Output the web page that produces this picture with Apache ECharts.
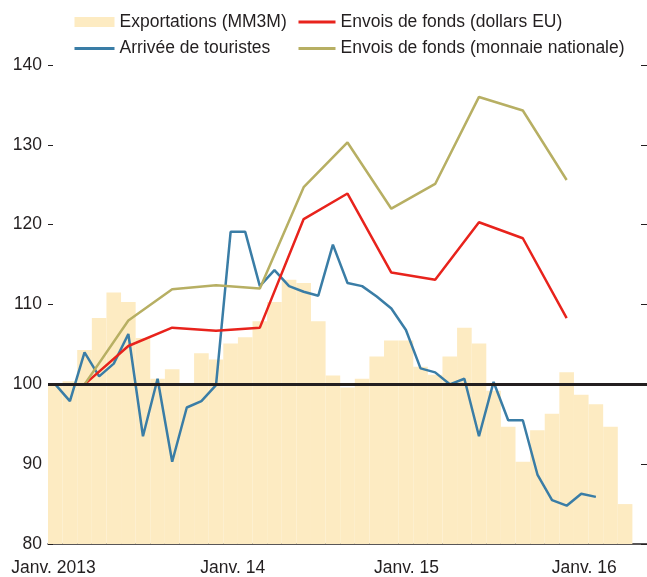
<!DOCTYPE html>
<html>
<head>
<meta charset="utf-8">
<script src="https://cdn.jsdelivr.net/npm/echarts@6/dist/echarts.min.js"></script>
<style>
html,body{margin:0;padding:0;background:#fff;}
#chart{width:647px;height:577px;}
</style>
</head>
<body>
<div id="chart"></div>
<script>
// Monthly categories (Jan 2013 - May 2016)
const categories = [
  '2013-01','2013-02','2013-03','2013-04','2013-05','2013-06','2013-07','2013-08','2013-09','2013-10','2013-11','2013-12',
  '2014-01','2014-02','2014-03','2014-04','2014-05','2014-06','2014-07','2014-08','2014-09','2014-10','2014-11','2014-12',
  '2015-01','2015-02','2015-03','2015-04','2015-05','2015-06','2015-07','2015-08','2015-09','2015-10','2015-11','2015-12',
  '2016-01','2016-02','2016-03','2016-04','2016-05'
];
// Exportations (MM3M), monthly
const exportsMM3M = [
  100.0,100.4,104.3,108.3,111.5,110.3,105.8,100.7,101.9,99.9,103.9,103.1,
  105.1,105.9,107.9,110.3,113.1,112.7,107.9,101.1,99.6,100.7,103.5,105.5,
  105.5,102.2,101.2,103.5,107.1,105.1,99.2,94.7,90.3,94.25,96.3,101.5,
  98.7,97.5,94.7,85.0
];
// Arrivée de touristes, monthly
const touristArrivals = [
  100.0,97.9,104.0,101.0,102.6,106.3,93.5,100.7,90.3,97.1,97.9,99.9,
  119.1,119.1,112.3,114.3,112.3,111.6,111.1,117.5,112.7,112.3,111.0,109.5,
  106.8,102.0,101.5,100.0,100.7,93.5,100.3,95.5,95.5,88.7,85.5,84.8,
  86.3,85.9
];
// Quarterly remittances
const remitMonths = ['2013-03','2013-06','2013-09','2013-12','2014-03','2014-06','2014-09','2014-12','2015-03','2015-06','2015-09','2015-12'];
const remitUSD = [100.0,104.8,107.1,106.7,107.1,120.7,123.9,114.0,113.1,120.3,118.3,108.3];
const remitLocal = [100.0,108.0,111.9,112.4,112.0,124.7,130.3,122.0,125.1,136.0,134.3,125.6];
// Axis ticks
const yTicks = [80, 90, 100, 110, 120, 130, 140];
const xTickMonths = [0, 12, 24, 36];
const xTickLabels = ['Janv. 2013', 'Janv. 14', 'Janv. 15', 'Janv. 16'];

const names = ['Exportations (MM3M)', 'Arrivée de touristes', 'Envois de fonds (dollars EU)', 'Envois de fonds (monnaie nationale)'];
const FONT = "'Liberation Sans', Arial, sans-serif";
const TXT = '#231F20';
const FS = 17.5;

const chart = echarts.init(document.getElementById('chart'), null, {renderer: 'canvas'});
const labelRich = {
  a: {fontSize: FS, fontFamily: FONT, color: TXT, padding: [0, 0, 0, 11]},
  b: {fontSize: FS, fontFamily: FONT, color: TXT, padding: [0, 0, 0, 12]},
  c: {fontSize: FS, fontFamily: FONT, color: TXT, padding: [0, 0, 0, 2]},
  d: {fontSize: FS, fontFamily: FONT, color: TXT}
};
const richKeys = ['a', 'b', 'c', 'd'];
const noSymbol = {opacity: 0};
const legendLine = {width: 3};

chart.setOption({
  animation: false,
  backgroundColor: '#ffffff',
  textStyle: {fontFamily: FONT, color: TXT},
  grid: {left: 48, right: 0, top: 65, bottom: 32},
  legend: [
    {
      orient: 'vertical', left: 68, top: 8, itemGap: 8.5, itemWidth: 40, itemHeight: 10,
      textStyle: {fontSize: FS, fontFamily: FONT, color: TXT},
      data: [{name: names[0], icon: 'rect'}, {name: names[1], itemStyle: noSymbol, lineStyle: legendLine}]
    },
    {
      orient: 'vertical', left: 292, top: 8, itemGap: 8.5, itemWidth: 37, itemHeight: 10,
      textStyle: {fontSize: FS, fontFamily: FONT, color: TXT},
      data: [{name: names[2], itemStyle: noSymbol, lineStyle: legendLine}, {name: names[3], itemStyle: noSymbol, lineStyle: legendLine}]
    }
  ],
  xAxis: [
    {
      type: 'category', data: categories, position: 'top', show: false,
      boundaryGap: true
    },
    {
      type: 'value', position: 'bottom', min: 0, max: 40.21, interval: 12,
      axisLine: {show: true, lineStyle: {color: TXT, width: 1.5}},
      axisTick: {show: true, inside: true, length: 8, lineStyle: {color: TXT, width: 1}, customValues: xTickMonths},
      axisLabel: {
        show: true, margin: 15, customValues: xTickMonths,
        formatter: function (v) {
          const i = xTickMonths.indexOf(Math.round(v));
          return i < 0 ? '' : '{' + richKeys[i] + '|' + xTickLabels[i] + '}';
        },
        rich: labelRich
      },
      splitLine: {show: false}
    }
  ],
  yAxis: [
    {
      type: 'value', position: 'left', min: 80, max: 140, interval: 10,
      axisLine: {show: false},
      axisTick: {show: true, inside: true, length: 5, lineStyle: {color: TXT, width: 1}},
      axisLabel: {show: true, margin: 6, fontSize: FS, fontFamily: FONT, color: TXT, customValues: yTicks},
      splitLine: {show: false}
    },
    {
      type: 'value', position: 'right', min: 80, max: 140, interval: 10,
      axisLine: {show: false},
      axisTick: {show: true, inside: true, length: 6, lineStyle: {color: TXT, width: 1}},
      axisLabel: {show: false},
      splitLine: {show: false}
    }
  ],
  series: [
    {
      name: names[0], type: 'bar', xAxisIndex: 0, yAxisIndex: 0,
      data: exportsMM3M, barWidth: '100%', barCategoryGap: 0,
      itemStyle: {color: '#FDEBC2'}, clip: true, z: 1,
      markLine: {
        silent: true, symbol: ['none', 'none'], label: {show: false},
        lineStyle: {color: TXT, width: 3, type: 'solid'},
        data: [{yAxis: 100}]
      }
    },
    {
      name: names[1], type: 'line', xAxisIndex: 0, yAxisIndex: 0,
      data: touristArrivals, symbol: 'none', z: 3,
      lineStyle: {color: '#3A7DA6', width: 2.5}, itemStyle: {color: '#3A7DA6'}
    },
    {
      name: names[2], type: 'line', xAxisIndex: 0, yAxisIndex: 0,
      data: remitMonths.map((m, i) => [m, remitUSD[i]]), symbol: 'none', z: 3,
      lineStyle: {color: '#E8231C', width: 2.5}, itemStyle: {color: '#E8231C'}
    },
    {
      name: names[3], type: 'line', xAxisIndex: 0, yAxisIndex: 0,
      data: remitMonths.map((m, i) => [m, remitLocal[i]]), symbol: 'none', z: 3,
      lineStyle: {color: '#B7AF63', width: 2.5}, itemStyle: {color: '#B7AF63'}
    }
  ]
});
</script>
</body>
</html>
